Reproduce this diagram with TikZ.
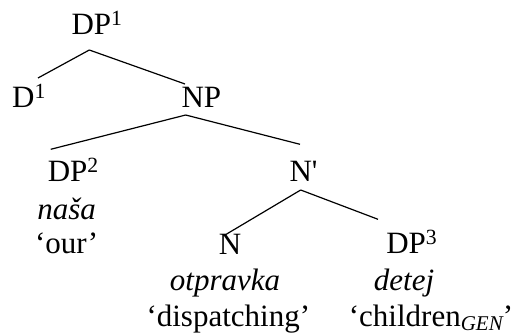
\documentclass[tikz,border=0pt]{standalone}
\usepackage{fontspec}
\setmainfont{Liberation Serif}
\newfontfamily\plainserif[Ligatures=TeXOff]{Liberation Serif}
\begin{document}
\begin{tikzpicture}[x=1pt,y=-1pt,
  lbl/.style={anchor=base,inner sep=0pt,font=\fontsize{31}{37}\selectfont},
  edge/.style={line width=1.2pt}]
\useasboundingbox (0,0) rectangle (515,334);
% labels
\node[lbl] (DP1) at (97,35) {DP\textsuperscript{1}};
\node[lbl] (D1) at (29,108) {D\textsuperscript{1}};
\node[lbl] (NP) at (201.4,108) {NP};
\node[lbl] (DP2) at (73.3,181.5) {DP\textsuperscript{2}};
\node[lbl] (nasa) at (66.7,219.3) {\itshape naša};
\node[lbl] (our) at (66.7,253.3) {‘our’};
\node[lbl] (Nbar) at (303.5,181.7) {{\plainserif N'}};
\node[lbl] (N) at (230,254.3) {N};
\node[lbl] (DP3) at (411.8,254) {DP\textsuperscript{3}};
\node[lbl] (otpravka) at (225,291) {\itshape otpravka};
\node[lbl] (detej) at (404,291) {\itshape detej};
\node[lbl] (disp) at (228.3,326.7) {‘dispatching’};
\node[lbl] (child) at (431,326.5) {‘children\raisebox{-4.5pt}{\fontsize{21}{21}\selectfont\itshape GEN}’};
% attachment points
\coordinate (DP1b) at (89.3,50);
\coordinate (D1t) at (38,78);
\coordinate (NPt) at (185,84);
\coordinate (NPb) at (185.7,115);
\coordinate (DP2t) at (50.7,149.3);
\coordinate (Nbart) at (300,144.3);
\coordinate (Nbarb) at (300.7,190);
\coordinate (Nt) at (225,235);
\coordinate (DP3t) at (378,219.3);
% edges
\draw[edge] (DP1b) -- (D1t);
\draw[edge] (DP1b) -- (NPt);
\draw[edge] (NPb) -- (DP2t);
\draw[edge] (NPb) -- (Nbart);
\draw[edge] (Nbarb) -- (Nt);
\draw[edge] (Nbarb) -- (DP3t);
\end{tikzpicture}
\end{document}
